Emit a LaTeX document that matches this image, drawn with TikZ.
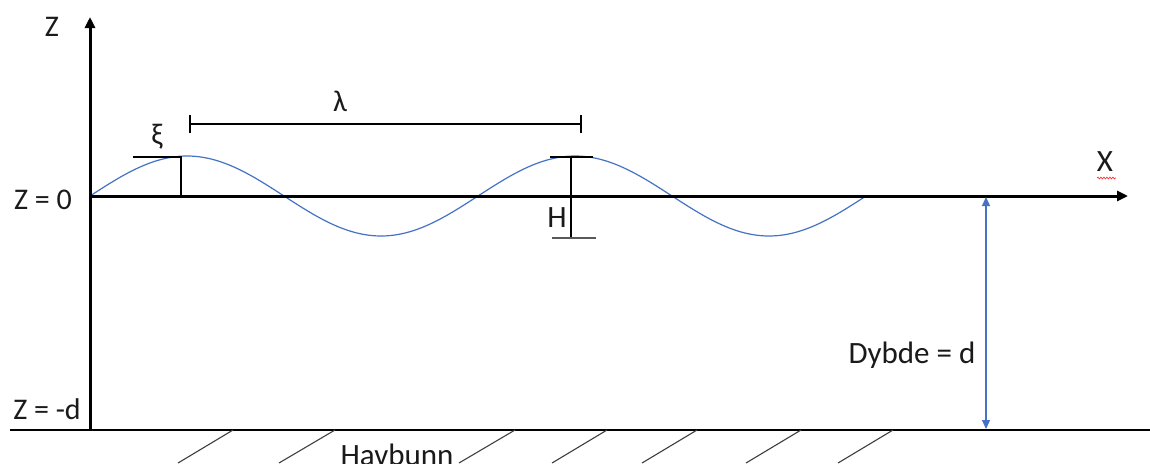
\documentclass[tikz,border=0pt]{standalone}
\usepackage{fontspec}
\setmainfont{Carlito}
\usetikzlibrary{arrows.meta,decorations.pathmorphing}
\definecolor{wave}{HTML}{4472C4}
\definecolor{txt}{HTML}{1A1A1A}
\begin{document}
\begin{tikzpicture}[x=1pt,y=-1pt,
  axis/.style={line width=3pt,-{Triangle[length=11pt,width=10pt]}},
  thin/.style={line width=1.2pt,black},
  lab/.style={inner sep=0pt,text=txt,font=\fontsize{30}{36}\selectfont},
  biglab/.style={inner sep=0pt,text=txt,font=\fontsize{31}{36}\selectfont},
  hatch/.style={line width=1.1pt,black!75},
  dep/.style={line width=1.1pt,wave,{Triangle[length=9pt,width=8pt]}-{Triangle[length=9pt,width=8pt]}}]
\clip (0,0) rectangle (1150,463);
\fill[white] (0,0) rectangle (1150,463);
% coordinates
\coordinate (o) at (90,196);
\coordinate (ztop) at (90,17);
\coordinate (zbot) at (90,430);
\coordinate (xend) at (1128,196);
\coordinate (sbL) at (10,430);
\coordinate (sbR) at (1150,430);
% seabed
\draw[line width=1.5pt] (sbL) -- (sbR);
\foreach \t/\b in {233/178,335/279,515/459,607/552,697/642,801/746,893/838}
  \draw[hatch] (\t,430) -- (\b,463);
% wave
\draw[wave,line width=1.2pt,domain=90:866,samples=200,smooth]
  plot (\x,{196-40*sin((\x-90)/388*360)});
% axes
\draw[axis] (zbot) -- (ztop);
\draw[axis] (o) -- (xend);
% xi marker
\coordinate (xiT) at (181,157);
\coordinate (xiB) at (181,196);
\coordinate (xiL) at (133,157);
\draw[thin] (xiL) -- (xiT) -- (xiB);
% lambda marker
\coordinate (lamL) at (190,124);
\coordinate (lamR) at (581,124);
\draw[thin] (lamL) -- (lamR);
\draw[thin] ([yshift=-9pt]lamL) -- ([yshift=9pt]lamL);
\draw[thin] ([yshift=-9pt]lamR) -- ([yshift=9pt]lamR);
% H marker
\coordinate (hT) at (571,157);
\coordinate (hB) at (571,238);
\draw[thin] (hT) -- (hB);
\draw[thin,line width=1.6pt] (550,157) -- (593,157);
\draw[line width=1.6pt,black!65] (552,238) -- (596,238);
% depth arrow
\coordinate (dT) at (986,197);
\coordinate (dB) at (986,429);
\draw[dep] (dT) -- (dB);
% labels
\node[lab] (zl) at (52,27) {Z};
\node[lab] (z0) at (43,200) {Z = 0};
\node[lab] (zd) at (47,409) {Z = -d};
\node[lab] (xi) at (157,137) {ξ};
\node[lab] (lam) at (340,101) {λ};
\node[biglab] (hl) at (557,218) {H};
\node[biglab] (xl) at (1105,162) {X};
\draw[red!80,line width=0.7pt,decorate,decoration={snake,segment length=3pt,amplitude=0.9pt}] (1097,178) -- (1116,178);
\node[biglab] (dy) at (912,355) {Dybde = d};
\node[biglab] (hb) at (397,455) {Havbunn};
\end{tikzpicture}
\end{document}
